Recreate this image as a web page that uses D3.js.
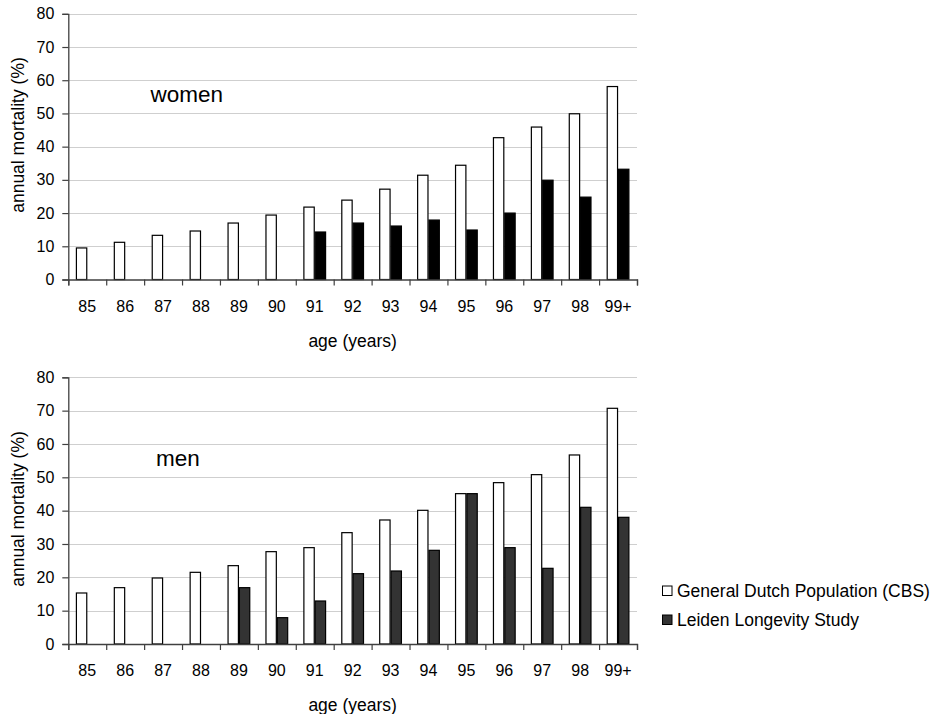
<!DOCTYPE html>
<html>
<head>
<meta charset="utf-8">
<script src="https://cdn.jsdelivr.net/npm/d3@7"></script>
<style>
  html, body { margin: 0; padding: 0; background: #fff; }
  svg { display: block; font-family: "Liberation Sans", Arial, sans-serif; }
</style>
</head>
<body>
<svg id="chart" width="941" height="714"></svg>
<script>
// Age groups (x categories)
const ages = ["85", "86", "87", "88", "89", "90", "91", "92", "93", "94", "95", "96", "97", "98", "99+"];

// Annual mortality (%), women
const womenCBS = [9.5, 11.2, 13.3, 14.6, 17.0, 19.4, 21.8, 23.9, 27.2, 31.4, 34.4, 42.7, 45.9, 49.9, 58.1];
const womenLeiden = [null, null, null, null, null, null, 14.3, 17.0, 16.1, 17.9, 14.9, 20.0, 29.9, 24.8, 33.2];

// Annual mortality (%), men
const menCBS = [15.3, 16.9, 19.8, 21.5, 23.5, 27.7, 28.9, 33.4, 37.2, 40.1, 45.1, 48.4, 50.8, 56.7, 70.7];
const menLeiden = [null, null, null, null, 16.9, 7.9, 12.9, 21.1, 21.9, 28.1, 45.1, 28.9, 22.7, 41.0, 38.0];

// Y axis ticks
const yTicks = [0, 10, 20, 30, 40, 50, 60, 70, 80];

// Series names for the legend
const seriesNames = ["General Dutch Population (CBS)", "Leiden Longevity Study"];
const seriesKeys = ["cbs", "leiden"];

const svg = d3.select("#chart");

const plotLeft = 68.3, plotRight = 637;
const tickFont = 16;

function drawPanel(opts) {
  const { top, bottom, cbs, leiden, leidenColor, label, labelX, labelY, titleY } = opts;
  const g = svg.append("g");

  const y = d3.scaleLinear().domain([0, 80]).range([bottom, top]);
  const x0 = d3.scaleBand().domain(ages).range([plotLeft, plotRight]).padding(0);
  const x1 = d3.scaleBand().domain(seriesKeys).range([0, x0.bandwidth()])
    .paddingInner(0).paddingOuter(0.67);
  const xIdx = d3.scaleLinear().domain([0, ages.length]).range([plotLeft, plotRight]);

  // horizontal gridlines
  g.append("g")
    .attr("transform", `translate(${plotLeft},0)`)
    .call(d3.axisLeft(y).tickValues(yTicks.filter(v => v > 0)).tickSize(-(plotRight - plotLeft)).tickFormat(""))
    .call(s => s.select(".domain").remove())
    .call(s => s.selectAll("line").attr("stroke", "#cfcfcf").attr("shape-rendering", "crispEdges"));

  // bars
  const rows = ages.map((a, i) => ({ age: a, cbs: cbs[i], leiden: leiden[i] }));
  const grp = g.append("g").selectAll("g").data(rows).join("g")
    .attr("transform", d => `translate(${x0(d.age)},0)`);
  grp.filter(d => d.cbs != null).append("rect")
    .attr("x", x1("cbs") + 0.5)
    .attr("width", x1.bandwidth() - 1)
    .attr("y", d => y(d.cbs))
    .attr("height", d => y(0) - y(d.cbs))
    .attr("fill", "#fff").attr("stroke", "#000").attr("stroke-width", 1.2);
  grp.filter(d => d.leiden != null).append("rect")
    .attr("x", x1("leiden") + 0.5)
    .attr("width", x1.bandwidth() - 1)
    .attr("y", d => y(d.leiden))
    .attr("height", d => y(0) - y(d.leiden))
    .attr("fill", leidenColor).attr("stroke", "#000").attr("stroke-width", 1.2);

  // y axis
  g.append("g")
    .attr("transform", `translate(${plotLeft},0)`)
    .call(d3.axisLeft(y).tickValues(yTicks).tickSize(6).tickPadding(8))
    .call(s => s.select(".domain").attr("stroke", "#404040").attr("stroke-width", 1.3))
    .call(s => s.selectAll("line").attr("stroke", "#404040").attr("stroke-width", 1.2))
    .call(s => s.selectAll("text").attr("font-size", tickFont).attr("fill", "#000")
      .attr("font-family", "Liberation Sans, Arial, sans-serif"));

  // x axis: boundary ticks
  g.append("g")
    .attr("transform", `translate(0,${bottom})`)
    .call(d3.axisBottom(xIdx).tickValues(d3.range(ages.length + 1)).tickSize(6).tickFormat(""))
    .call(s => s.select(".domain").attr("stroke", "#404040").attr("stroke-width", 1.3))
    .call(s => s.selectAll("line").attr("stroke", "#404040").attr("stroke-width", 1.2));

  // x axis: category labels
  g.append("g")
    .attr("transform", `translate(0,${bottom})`)
    .call(d3.axisBottom(x0).tickSize(0).tickPadding(21))
    .call(s => s.select(".domain").remove())
    .call(s => s.selectAll("text").attr("font-size", tickFont).attr("fill", "#000")
      .attr("font-family", "Liberation Sans, Arial, sans-serif"));

  // axis titles
  g.append("text")
    .attr("transform", `translate(17.5,${titleY}) rotate(-90)`)
    .attr("text-anchor", "middle").attr("dy", "0.35em")
    .attr("font-size", 17.5).attr("fill", "#000")
    .text("annual mortality (%)");
  g.append("text")
    .attr("x", (plotLeft + plotRight) / 2).attr("y", bottom + 67)
    .attr("text-anchor", "middle")
    .attr("font-size", 17.5).attr("fill", "#000")
    .text("age (years)");

  // panel label
  g.append("text")
    .attr("x", labelX).attr("y", labelY)
    .attr("font-size", 22.5).attr("fill", "#000")
    .text(label);
}

drawPanel({ top: 13.8, bottom: 279.5, cbs: womenCBS, leiden: womenLeiden, leidenColor: "#000",
  label: "women", labelX: 150.5, labelY: 101.5, titleY: 135 });
drawPanel({ top: 377.3, bottom: 644, cbs: menCBS, leiden: menLeiden, leidenColor: "#333333",
  label: "men", labelX: 156, labelY: 466, titleY: 509 });

// legend
const legendColors = ["#fff", "#333333"];
const legend = svg.append("g").attr("transform", "translate(662,0)");
const items = legend.selectAll("g").data(seriesNames).join("g")
  .attr("transform", (d, i) => `translate(0,${591 + i * 29})`);
items.append("rect")
  .attr("x", 0.5).attr("y", -5).attr("width", 9.5).attr("height", 9.5)
  .attr("fill", (d, i) => legendColors[i]).attr("stroke", "#000").attr("stroke-width", 1);
items.append("text")
  .attr("x", 15).attr("y", 6)
  .attr("font-size", 17.5).attr("fill", "#000")
  .text(d => d);
</script>
</body>
</html>
